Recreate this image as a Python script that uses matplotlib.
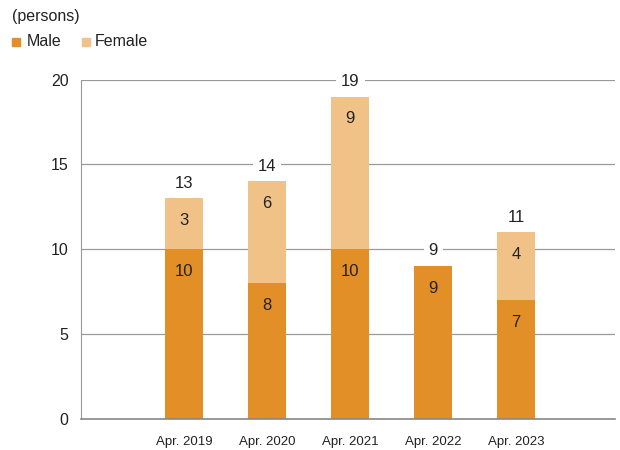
import matplotlib
matplotlib.use("Agg")
import matplotlib.pyplot as plt
from matplotlib.patches import Rectangle

plt.rcParams["font.family"] = ["Liberation Sans", "DejaVu Sans"]

categories = ["Apr. 2019", "Apr. 2020", "Apr. 2021", "Apr. 2022", "Apr. 2023"]
male = [10, 8, 10, 9, 7]
female = [3, 6, 9, 0, 4]
totals = [13, 14, 19, 9, 11]

MALE_C = "#E38F27"
FEMALE_C = "#F0C288"
GRID_C = "#9a9a9a"
TXT = "#222222"

fig = plt.figure(figsize=(6.2, 4.5), dpi=100)
ax = fig.add_axes([0.131, 0.069, 0.861, 0.754])

x = list(range(len(categories)))
w = 0.46
ax.bar(x, male, width=w, color=MALE_C, zorder=2)
ax.bar(x, female, width=w, bottom=male, color=FEMALE_C, zorder=2)

for i in x:
    ax.annotate(str(male[i]), (i, male[i]), xytext=(0, -16), textcoords="offset points",
                ha="center", va="center", fontsize=12, color=TXT, zorder=3)
    if female[i]:
        ax.annotate(str(female[i]), (i, male[i] + female[i]), xytext=(0, -16),
                    textcoords="offset points", ha="center", va="center",
                    fontsize=12, color=TXT, zorder=3)
    ax.annotate(str(totals[i]), (i, totals[i]), xytext=(0, 11), textcoords="offset points",
                ha="center", va="center", fontsize=12, color=TXT, zorder=3,
                bbox=dict(boxstyle="square,pad=0.3", fc="white", ec="none"))

ax.set_xlim(-1.24, 5.19)
ax.set_ylim(0, 20)
ax.set_yticks([0, 5, 10, 15, 20])
ax.yaxis.grid(True, color=GRID_C, lw=0.9, zorder=0)
ax.set_axisbelow(True)
ax.set_xticks(x)
ax.set_xticklabels(categories, fontsize=9.5, color=TXT)
ax.tick_params(axis="y", length=0, labelsize=11.5, labelcolor=TXT, pad=9)
ax.tick_params(axis="x", length=0, pad=12)
for s in ["top", "right"]:
    ax.spines[s].set_visible(False)
ax.spines["left"].set_color(GRID_C)
ax.spines["bottom"].set_color("#888888")
ax.spines["bottom"].set_linewidth(1.2)

fig.text(12 / 620, 1 - 17 / 450, "(persons)", fontsize=11.5, color=TXT, va="center")
fig.patches.append(Rectangle((12 / 620, 1 - 46 / 450), 8 / 620, 8 / 450,
                             transform=fig.transFigure, color=MALE_C))
fig.text(27 / 620, 1 - 42 / 450, "Male", fontsize=11.5, color=TXT, va="center")
fig.patches.append(Rectangle((82 / 620, 1 - 46 / 450), 8 / 620, 8 / 450,
                             transform=fig.transFigure, color=FEMALE_C))
fig.text(95 / 620, 1 - 42 / 450, "Female", fontsize=11.5, color=TXT, va="center")

fig.savefig("out.png", dpi=100)
